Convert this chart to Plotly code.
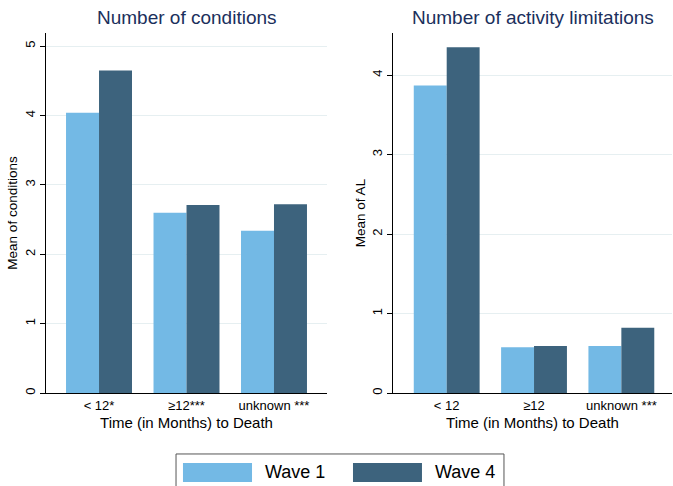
import plotly.graph_objects as go
from plotly.subplots import make_subplots

categories_left = ["< 12*", "≥12***", "unknown ***"]
categories_right = ["< 12", "≥12", "unknown ***"]
series_names = ["Wave 1", "Wave 4"]
conditions_wave1 = [4.04, 2.60, 2.34]
conditions_wave4 = [4.65, 2.71, 2.72]
al_wave1 = [3.87, 0.575, 0.59]
al_wave4 = [4.35, 0.59, 0.82]
titles = ["Number of conditions", "Number of activity limitations"]
y_titles = ["Mean of conditions", "Mean of AL"]
x_title = "Time (in Months) to Death"

colors = ["#73b9e5", "#3d637d"]
FONT = "Liberation Sans, Arial, sans-serif"
GRID = "#e6eff1"

fig = make_subplots(rows=1, cols=2)

idx = [0, 1, 2]
for col, (w1, w4) in enumerate(
        [(conditions_wave1, conditions_wave4), (al_wave1, al_wave4)], start=1):
    for s, (vals, name) in enumerate(zip([w1, w4], series_names)):
        fig.add_trace(go.Bar(x=idx, y=vals, name=name, marker_color=colors[s],
                             marker_line_width=0, showlegend=False),
                      row=1, col=col)

fig.update_layout(
    width=673, height=486,
    margin=dict(l=46, r=1, t=33, b=93),
    paper_bgcolor="white", plot_bgcolor="white",
    barmode="group", bargap=0.246, bargroupgap=0,
    font=dict(family=FONT, color="black", size=13),
)

axis_common_x = dict(showline=True, linecolor="black", linewidth=1, ticks="",
                     showgrid=False, zeroline=False,
                     tickfont=dict(size=13, family=FONT),
                     title=dict(text=x_title, font=dict(size=15, family=FONT), standoff=5))
fig.update_xaxes(domain=[0, 0.4489], range=[-0.606, 2.606], tickvals=idx,
                 ticktext=categories_left, row=1, col=1, **axis_common_x)
fig.update_xaxes(domain=[0.5543, 1.0], range=[-0.615, 2.58], tickvals=idx,
                 ticktext=categories_right, row=1, col=2, **axis_common_x)

axis_common_y = dict(showline=True, linecolor="black", linewidth=1, ticks="outside",
                     ticklen=5, tickcolor="black", showgrid=True, gridcolor=GRID,
                     gridwidth=1, zeroline=False, tickangle=-90,
                     tickfont=dict(size=13, family=FONT))
fig.update_yaxes(range=[0, 5.19], tickvals=[0, 1, 2, 3, 4, 5], row=1, col=1,
                 title=dict(text=y_titles[0], font=dict(size=13.5, family=FONT), standoff=2),
                 **axis_common_y)
fig.update_yaxes(range=[0, 4.53], tickvals=[0, 1, 2, 3, 4], row=1, col=2,
                 title=dict(text=y_titles[1], font=dict(size=13.5, family=FONT), standoff=1),
                 **axis_common_y)

# subplot titles
for xc, t in zip([0.2248, 0.778], titles):
    fig.add_annotation(text=t, xref="paper", yref="paper", x=xc, y=1.0417,
                       xanchor="center", yanchor="middle", showarrow=False,
                       font=dict(size=19, family=FONT, color="#1b2f5c"))

# legend box
fig.add_shape(type="rect", xref="paper", yref="paper", x0=0.2077, x1=0.7316,
              y0=-0.2694, y1=-0.1694, line=dict(color="#555555", width=1),
              fillcolor="white")
for (sx0, sx1, tx), name, c in zip([(0.2188, 0.3291, 0.3466), (0.4904, 0.6006, 0.6182)],
                                   series_names, colors):
    fig.add_shape(type="rect", xref="paper", yref="paper", x0=sx0, x1=sx1,
                  y0=-0.2472, y1=-0.1944, line=dict(width=0), fillcolor=c)
    fig.add_annotation(text=name, xref="paper", yref="paper", x=tx, y=-0.2208,
                       xanchor="left", yanchor="middle", showarrow=False,
                       font=dict(size=18, family=FONT, color="black"))

fig.write_html("out.html", config={"displayModeBar": False},
               post_script="document.body.style.margin='0';document.body.style.overflow='hidden';")
